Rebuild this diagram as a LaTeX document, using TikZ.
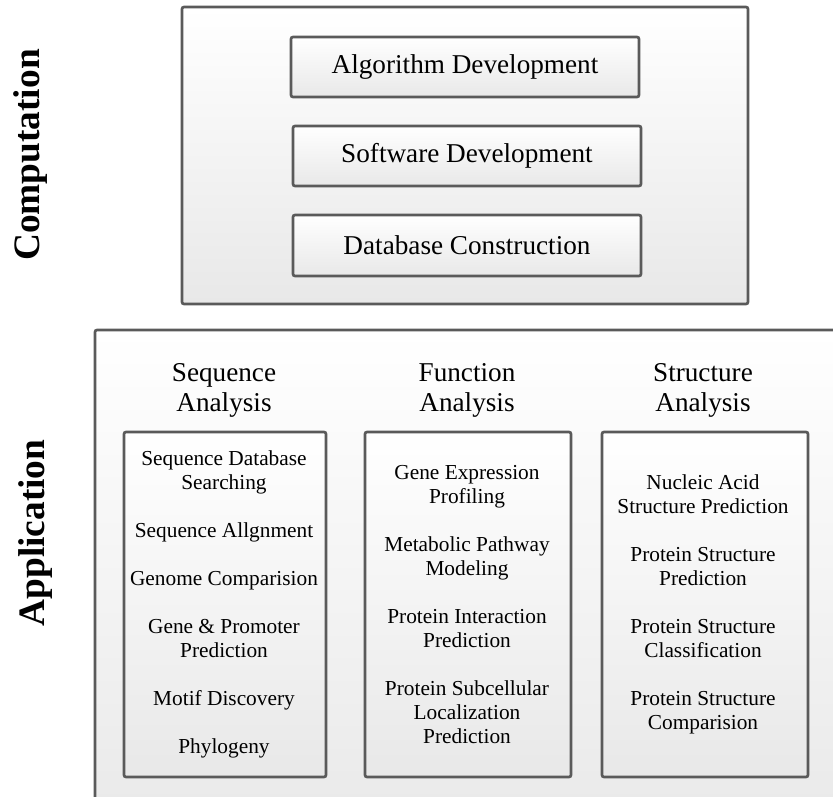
\documentclass[tikz,border=0pt]{standalone}
\usepackage{fontspec}
\setmainfont{Liberation Serif}
\definecolor{framegray}{RGB}{90,90,90}
\definecolor{shadegray}{RGB}{232,232,232}
\tikzset{
  panel/.style={draw=framegray, line width=2pt, rounded corners=1.5pt, top color=white, bottom color=shadegray},
  bigtext/.style={font=\fontsize{20.4}{22.5}\selectfont, inner sep=0.75pt, align=center},
  smalltext/.style={font=\fontsize{16}{18}\selectfont, inner sep=0.75pt, align=center},
  sidelabel/.style={font=\fontsize{28}{30}\selectfont\bfseries, rotate=90, inner sep=0.75pt}
}

\begin{document}
\begin{tikzpicture}[x=0.75pt,y=0.75pt,yscale=-1,xscale=1]
\useasboundingbox (0,0) rectangle (833,797);
%Shape: Rectangle [computation panel]
\draw [panel] (182,7) rectangle (748,304);
%Shape: Rectangle [algorithm]
\draw [panel] (291,37) rectangle (639,97);
%Shape: Rectangle [software]
\draw [panel] (293,126) rectangle (641,186);
%Shape: Rectangle [database]
\draw [panel] (293,215) rectangle (641,276);

%Shape: Rectangle [application panel], runs off the page
\draw [panel] (95,330) rectangle (880,850);
%Shape: Rectangle [sequence column]
\draw [panel] (124,432) rectangle (326,777);
%Shape: Rectangle [function column]
\draw [panel] (365,432) rectangle (571,777);
%Shape: Rectangle [structure column]
\draw [panel] (602,432) rectangle (808,777);

% Text Node
\draw (31,155) node [sidelabel] (comp) {Computation};
% Text Node
\draw (36,533) node [sidelabel] (appl) {Application};
% Text Node
\draw (465,67) node [bigtext] (algo) {Algorithm Development};
% Text Node
\draw (467,156) node [bigtext] (soft) {Software Development};
% Text Node
\draw (467,245.5) node [bigtext] (dbase) {Database Construction};

% Text Node
\draw (224,362.5) node [bigtext, anchor=north] (seqhead) {Sequence\\Analysis};
% Text Node
\draw (467,362.5) node [bigtext, anchor=north] (funchead) {Function\\Analysis};
% Text Node
\draw (703,362.5) node [bigtext, anchor=north] (structhead) {Structure\\Analysis};

% Text Node
\draw (224,604.5) node [smalltext] (seqlist) {Sequence Database\\Searching\\[18pt]
  Sequence Allgnment\\[18pt]Genome Comparision\\[18pt]
  Gene \& Promoter\\Prediction\\[18pt]Motif Discovery\\[18pt]Phylogeny};
% Text Node
\draw (467,604.5) node [smalltext] (funclist) {Gene Expression\\Profiling\\[18pt]
  Metabolic Pathway\\Modeling\\[18pt]Protein Interaction\\Prediction\\[18pt]
  Protein Subcellular\\Localization\\Prediction};
% Text Node
\draw (703,604.5) node [smalltext] (structlist) {Nucleic Acid\\Structure Prediction\\[18pt]
  Protein Structure\\Prediction\\[18pt]Protein Structure\\Classification\\[18pt]
  Protein Structure\\Comparision};

\end{tikzpicture}
\end{document}
